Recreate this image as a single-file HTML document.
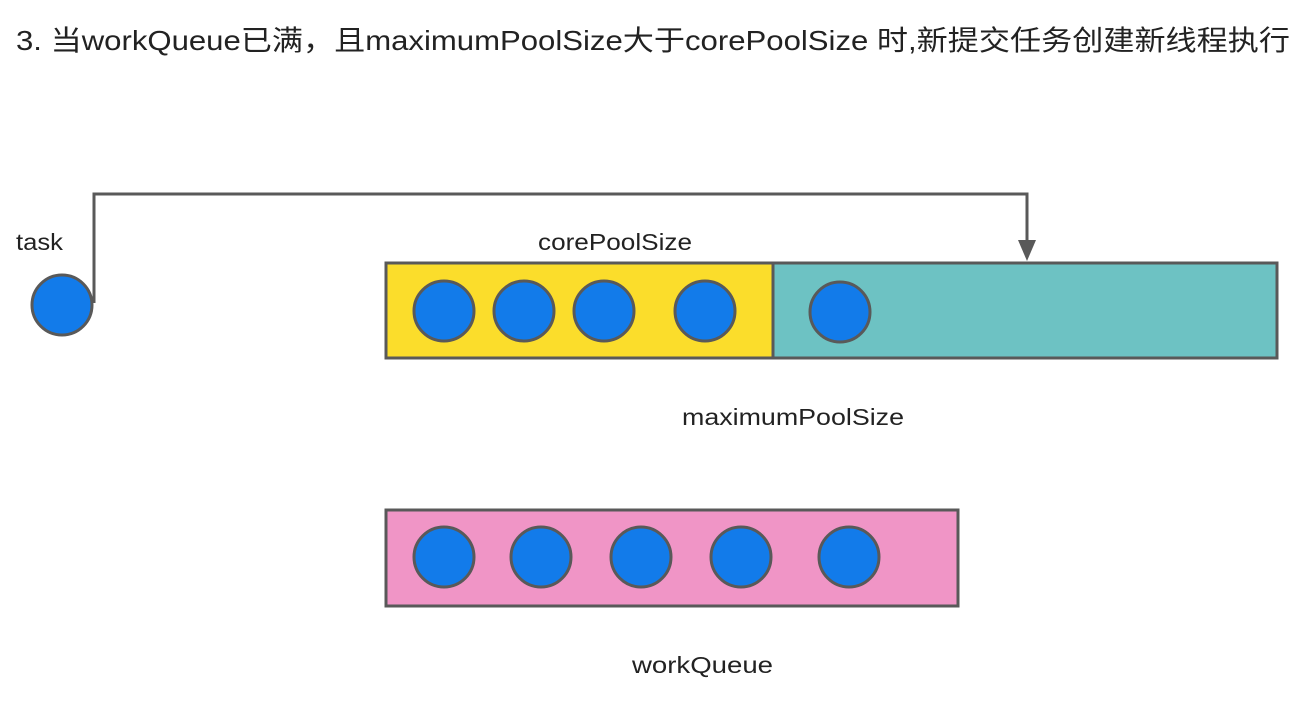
<!DOCTYPE html>
<html><head><meta charset="utf-8"><style>
body{margin:0;background:#fff;width:1310px;height:700px;overflow:hidden}
svg text{font-family:"Liberation Sans","Noto Sans CJK SC",sans-serif;fill:#222}
</style></head><body>
<svg width="1310" height="700" xmlns="http://www.w3.org/2000/svg">
<text x="16" y="50" font-size="28" textLength="1274" lengthAdjust="spacingAndGlyphs">3. 当workQueue已满，且maximumPoolSize大于corePoolSize 时,新提交任务创建新线程执行</text>
<g stroke="#595959" stroke-width="3">
<rect x="386" y="263" width="387" height="95" fill="#fbdd2b"/>
<rect x="773" y="263" width="504" height="95" fill="#6dc2c3"/>
<rect x="386" y="510" width="572" height="96" fill="#f095c6"/>
<polyline points="94,303 94,194 1027,194 1027,248" fill="none"/>
</g>
<polygon points="1018,240 1036,240 1027,261" fill="#595959"/>
<g fill="#127bea" stroke="#595959" stroke-width="3">
<circle cx="62" cy="305" r="30"/>
<circle cx="444" cy="311" r="30"/><circle cx="524" cy="311" r="30"/><circle cx="604" cy="311" r="30"/><circle cx="705" cy="311" r="30"/>
<circle cx="840" cy="312" r="30"/>
<circle cx="444" cy="557" r="30"/><circle cx="541" cy="557" r="30"/><circle cx="641" cy="557" r="30"/><circle cx="741" cy="557" r="30"/><circle cx="849" cy="557" r="30"/>
</g>
<text x="16" y="250" font-size="23" textLength="47" lengthAdjust="spacingAndGlyphs">task</text>
<text x="538" y="250" font-size="23" textLength="154" lengthAdjust="spacingAndGlyphs">corePoolSize</text>
<text x="682" y="425" font-size="23" textLength="222" lengthAdjust="spacingAndGlyphs">maximumPoolSize</text>
<text x="632" y="673" font-size="23" textLength="141" lengthAdjust="spacingAndGlyphs">workQueue</text>
</svg>
</body></html>
